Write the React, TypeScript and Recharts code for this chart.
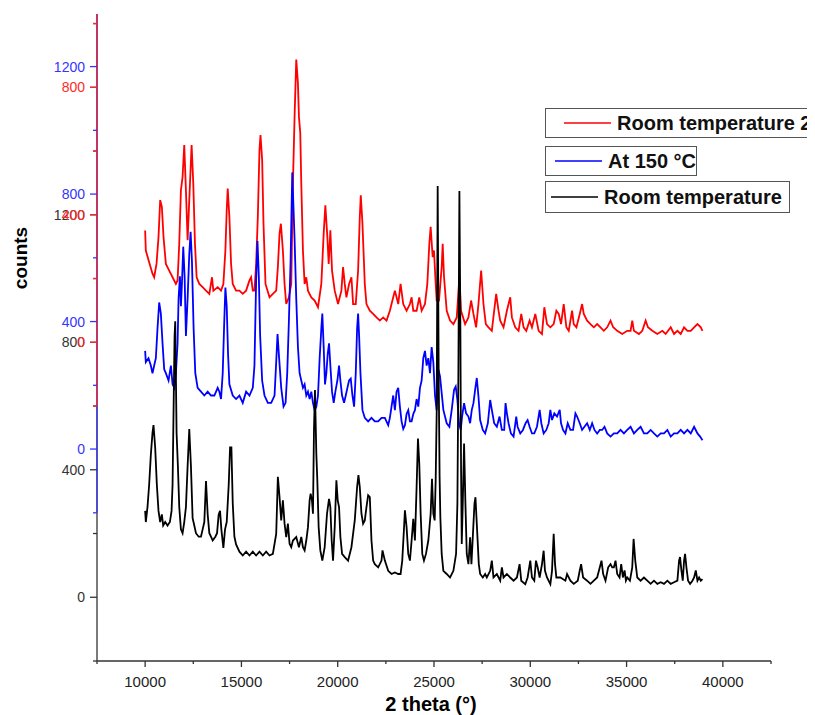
import React from 'react';
import { LineChart, Line, XAxis, YAxis, Legend, ReferenceLine, Label } from 'recharts';

const FONT = "'Liberation Sans', Arial, Helvetica, sans-serif";

// 2 theta / counts readings, "Room temperature" (black)
const blackPoints: [number, number][] = [
  [10000,271],[10035,236],[10122,283],[10208,353],[10295,446],[10382,516],[10434,540],[10521,470],[10608,353],[10694,271],[10781,236],[10868,260],[10937,225],[11042,236],[11163,225],[11285,236],[11372,271],[11424,353],[11476,586],[11528,820],[11563,866],[11632,516],[11701,411],[11771,283],[11858,213],[11944,201],[12031,236],[12118,283],[12205,411],[12292,528],[12378,411],[12465,248],[12552,225],[12639,201],[12778,190],[12899,190],[12986,213],[13073,236],[13160,365],[13247,260],[13333,201],[13420,190],[13507,178],[13646,190],[13733,201],[13819,260],[13889,271],[13958,213],[14062,155],[14149,213],[14236,236],[14340,353],[14410,470],[14479,470],[14549,295],[14635,190],[14722,166],[14896,143],[15069,131],[15243,143],[15417,131],[15590,143],[15764,131],[15937,143],[16111,131],[16285,143],[16458,131],[16632,136],[16806,199],[16892,378],[16979,314],[17066,241],[17153,304],[17240,231],[17326,189],[17413,231],[17500,168],[17587,157],[17674,178],[17847,189],[17986,157],[18108,189],[18194,157],[18281,147],[18368,178],[18455,220],[18542,304],[18594,325],[18663,304],[18715,262],[18767,524],[18819,650],[18889,451],[18941,367],[19010,220],[19097,147],[19201,115],[19323,157],[19444,262],[19549,309],[19618,283],[19687,178],[19757,115],[19844,220],[19931,367],[20000,304],[20069,283],[20139,189],[20226,136],[20365,126],[20538,115],[20712,157],[20885,241],[21007,346],[21076,383],[21146,346],[21233,262],[21319,231],[21406,241],[21493,283],[21580,320],[21667,314],[21753,178],[21840,115],[21927,104],[22101,94],[22274,115],[22326,147],[22448,115],[22622,83],[22795,73],[22969,78],[23142,73],[23264,73],[23351,115],[23437,210],[23490,273],[23576,220],[23663,136],[23750,115],[23837,178],[23924,246],[24010,178],[24097,346],[24167,498],[24236,419],[24306,262],[24392,136],[24479,115],[24583,136],[24705,178],[24826,262],[24896,372],[24965,262],[25035,241],[25087,367],[25139,577],[25191,1290],[25243,703],[25290,380],[25330,250],[25399,136],[25486,83],[25660,73],[25833,62],[26007,83],[26146,136],[26215,293],[26267,713],[26319,1275],[26372,818],[26406,398],[26441,167],[26493,293],[26562,482],[26632,293],[26701,136],[26788,104],[26875,188],[26944,104],[27014,188],[27101,293],[27153,314],[27205,251],[27257,188],[27326,104],[27396,73],[27535,62],[27656,73],[27743,62],[27917,83],[28003,115],[28090,62],[28264,73],[28438,52],[28524,94],[28611,62],[28785,73],[28958,62],[29132,52],[29306,62],[29444,104],[29531,52],[29740,41],[29861,62],[30000,115],[30087,62],[30208,52],[30295,115],[30382,94],[30486,62],[30608,104],[30694,146],[30764,83],[30868,62],[31042,41],[31128,83],[31215,199],[31285,104],[31354,62],[31562,62],[31823,52],[31910,73],[32083,52],[32257,42],[32465,52],[32569,84],[32639,104],[32743,62],[32951,52],[33125,42],[33299,52],[33472,62],[33611,94],[33698,115],[33785,73],[33906,52],[34045,94],[34167,104],[34253,94],[34340,94],[34427,115],[34514,73],[34635,62],[34722,104],[34809,62],[34896,84],[34965,52],[35035,62],[35174,52],[35295,94],[35365,183],[35451,115],[35556,62],[35729,52],[35903,62],[36076,52],[36250,42],[36424,52],[36597,42],[36771,47],[36944,42],[37118,52],[37292,42],[37465,47],[37639,52],[37726,115],[37778,126],[37847,84],[37917,52],[37986,115],[38038,136],[38108,94],[38194,52],[38299,42],[38420,52],[38507,62],[38594,84],[38681,52],[38767,62],[38854,52],[38941,57]
];

// "At 150 °C" (blue)
const bluePoints: [number, number][] = [
  [10000,308],[10035,273],[10174,285],[10295,262],[10382,238],[10469,262],[10556,285],[10642,378],[10729,460],[10816,425],[10903,332],[10990,250],[11076,238],[11215,215],[11337,262],[11424,203],[11510,192],[11597,238],[11684,332],[11736,472],[11806,542],[11858,448],[11910,518],[11979,635],[12049,542],[12118,355],[12205,472],[12292,612],[12361,682],[12431,588],[12517,378],[12604,238],[12726,192],[12899,180],[13073,168],[13247,180],[13420,168],[13594,168],[13767,192],[13854,180],[13941,157],[14028,238],[14097,378],[14167,507],[14236,448],[14306,297],[14375,203],[14549,168],[14722,157],[14896,168],[15069,145],[15243,180],[15417,168],[15590,192],[15677,262],[15764,530],[15833,653],[15903,542],[15972,355],[16076,215],[16198,168],[16371,145],[16545,145],[16719,168],[16806,273],[16875,361],[16944,297],[17066,192],[17187,133],[17292,145],[17378,238],[17465,402],[17552,588],[17639,868],[17760,658],[17847,472],[17934,320],[18021,238],[18108,215],[18194,192],[18281,203],[18368,168],[18455,180],[18542,157],[18628,180],[18715,145],[18802,122],[18889,133],[18976,168],[19062,285],[19149,378],[19201,425],[19271,320],[19340,203],[19410,238],[19479,297],[19549,332],[19618,262],[19705,180],[19792,145],[19878,180],[19983,215],[20069,262],[20139,215],[20226,168],[20330,145],[20417,168],[20503,192],[20590,215],[20677,221],[20764,168],[20851,133],[20937,238],[21007,378],[21059,425],[21111,355],[21181,238],[21285,122],[21406,98],[21580,87],[21753,98],[21927,87],[22101,87],[22274,98],[22448,98],[22622,75],[22708,98],[22795,133],[22882,168],[22969,122],[23056,180],[23142,192],[23229,133],[23316,87],[23403,63],[23490,75],[23576,110],[23663,122],[23750,87],[23837,87],[23924,110],[24010,122],[24097,157],[24184,133],[24271,192],[24358,215],[24444,285],[24531,308],[24618,262],[24705,285],[24792,238],[24878,320],[24965,273],[25052,168],[25139,122],[25226,250],[25313,228],[25486,123],[25660,81],[25799,70],[25920,123],[26042,186],[26128,196],[26215,154],[26302,81],[26389,60],[26458,102],[26562,144],[26667,112],[26788,102],[26875,81],[26962,123],[27049,144],[27135,186],[27222,223],[27309,165],[27396,91],[27535,60],[27656,49],[27795,81],[27917,154],[28003,123],[28125,81],[28264,70],[28403,102],[28524,60],[28646,60],[28715,144],[28785,112],[28872,81],[28993,49],[29132,39],[29271,102],[29340,70],[29479,49],[29618,60],[29757,81],[29861,91],[29965,70],[30087,49],[30208,49],[30347,70],[30486,123],[30573,81],[30694,49],[30833,60],[30955,81],[31042,123],[31128,91],[31250,112],[31389,102],[31528,123],[31597,81],[31701,60],[31823,49],[31944,81],[32083,60],[32222,60],[32344,112],[32431,102],[32569,81],[32691,60],[32812,70],[32951,81],[33090,60],[33212,81],[33333,60],[33472,49],[33611,60],[33733,60],[33854,70],[33993,49],[34167,39],[34340,49],[34514,49],[34687,60],[34861,49],[35035,60],[35208,70],[35382,49],[35556,60],[35729,70],[35903,49],[36076,49],[36250,60],[36424,49],[36597,39],[36771,49],[36944,49],[37118,60],[37292,39],[37465,49],[37639,49],[37812,60],[37986,49],[38160,60],[38333,49],[38507,70],[38681,49],[38819,39],[38941,28]
];

// "Room temperature 2" (red)
const redPoints: [number, number][] = [
  [10000,351],[10035,288],[10208,251],[10382,215],[10469,204],[10590,246],[10694,330],[10781,446],[10868,425],[10955,330],[11076,246],[11250,225],[11424,204],[11597,183],[11684,194],[11771,309],[11858,477],[11944,519],[12031,619],[12118,477],[12205,320],[12292,446],[12413,619],[12500,498],[12587,309],[12674,204],[12812,183],[12986,173],[13160,162],[13333,152],[13472,204],[13542,162],[13767,173],[13941,162],[14062,183],[14167,288],[14236,414],[14288,482],[14375,393],[14462,246],[14549,183],[14722,162],[14896,162],[15069,152],[15243,162],[15417,194],[15503,204],[15590,162],[15677,162],[15764,246],[15851,393],[15937,603],[15990,650],[16076,572],[16146,372],[16250,183],[16458,141],[16632,152],[16806,162],[16892,236],[16979,341],[17049,372],[17153,288],[17240,183],[17326,120],[17465,141],[17587,183],[17674,498],[17760,708],[17847,887],[17934,813],[17986,708],[18056,656],[18108,498],[18194,288],[18281,183],[18368,204],[18455,162],[18628,141],[18802,131],[18976,110],[19149,183],[19271,341],[19358,430],[19462,330],[19531,246],[19618,351],[19705,225],[19844,162],[20017,120],[20191,162],[20278,236],[20365,183],[20451,141],[20590,183],[20712,204],[20799,120],[20937,120],[21059,225],[21146,393],[21198,461],[21285,372],[21406,183],[21493,120],[21667,99],[21840,89],[22014,78],[22187,68],[22361,78],[22535,68],[22708,99],[22882,141],[22969,162],[23056,141],[23142,120],[23264,183],[23403,120],[23576,99],[23750,120],[23837,141],[23924,99],[24097,99],[24236,141],[24358,99],[24531,120],[24653,183],[24757,309],[24826,362],[24931,267],[25000,288],[25069,204],[25139,131],[25260,131],[25399,236],[25451,309],[25521,204],[25660,99],[25833,68],[26007,57],[26181,78],[26319,204],[26406,99],[26615,57],[26788,78],[26927,131],[27049,89],[27187,47],[27309,120],[27448,225],[27569,120],[27691,57],[27830,47],[28003,36],[28125,99],[28229,152],[28351,99],[28438,68],[28611,47],[28785,99],[28958,141],[29045,78],[29219,47],[29392,36],[29531,89],[29653,47],[29792,36],[29965,68],[30087,47],[30260,89],[30434,36],[30608,26],[30729,110],[30868,57],[31042,47],[31215,57],[31354,99],[31476,89],[31597,57],[31736,120],[31875,47],[31997,36],[32170,99],[32257,57],[32396,47],[32569,89],[32691,120],[32778,89],[32951,68],[33125,57],[33299,47],[33472,57],[33646,47],[33819,36],[33993,47],[34167,68],[34306,47],[34514,36],[34774,26],[35035,36],[35208,36],[35295,68],[35382,36],[35642,26],[35816,36],[35990,68],[36111,47],[36337,36],[36597,26],[36858,36],[37031,26],[37292,47],[37465,26],[37639,36],[37812,26],[37986,47],[38160,36],[38333,36],[38507,47],[38681,57],[38854,47],[38941,36]
];

const xDomain: [number, number] = [7500, 42500];
const xTicks = [7500, 10000, 12500, 15000, 17500, 20000, 22500, 25000, 27500, 30000, 32500, 35000, 37500, 40000, 42500];
const xLabelTicks = [10000, 15000, 20000, 25000, 30000, 35000, 40000];

const blackDomain: [number, number] = [-200, 1830];
const blueDomain: [number, number] = [-665, 1365];
const redDomain: [number, number] = [-1000, 1030];
const blackTicks = [-200, 0, 200, 400, 600, 800, 1000, 1200, 1400, 1600, 1800];
const blueTicks = [-200, 0, 200, 400, 600, 800, 1000, 1200];
const redTicks = [-200, 0, 200, 400, 600, 800, 1000];
const blackLabelTicks = [0, 400, 800, 1200];
const blueLabelTicks = [0, 400, 800, 1200];
const redLabelTicks = [0, 400, 800];

const names = { black: 'Room temperature', blue: 'At 150 °C', red: 'Room temperature 2' };
const colors = { black: '#000000', blue: '#0000ff', red: '#ff0000' };
const axisColors = { black: '#333333', blue: '#3535ff', red: '#ff2a2a' };

const toRows = (pts: [number, number][]) => pts.map(([x, y]) => ({ x, y }));
const blackData = toRows(blackPoints);
const blueData = toRows(bluePoints);
const redData = toRows(redPoints);

const AXIS_X = 89; // plot left edge inside the svg

const makeYTick = (color: string, labels: number[]) => (props: any) => {
  const { y, payload } = props;
  const x = AXIS_X;
  const v = payload.value;
  const major = v % 400 === 0;
  const len = major ? 7 : 4;
  return (
    <g>
      <line x1={x - len} x2={x} y1={y} y2={y} stroke={color} strokeWidth={1.3} />
      {labels.includes(v) ? (
        <text x={x - 12} y={y} dy="0.36em" textAnchor="end" fill={color} fontSize={14} fontFamily={FONT}>
          {v}
        </text>
      ) : null}
    </g>
  );
};

const XTick = (props: any) => {
  const { x, y, payload } = props;
  const v = payload.value;
  const major = v % 5000 === 0;
  return (
    <g>
      <line x1={x} x2={x} y1={y} y2={y + (major ? 6 : 3)} stroke="#333" strokeWidth={1.3} />
      {xLabelTicks.includes(v) ? (
        <text x={x} y={y + 26} textAnchor="middle" fill="#222" fontSize={15} fontFamily={FONT}>
          {v}
        </text>
      ) : null}
    </g>
  );
};

const CountsLabel = (props: any) => {
  const vb = props.viewBox || { x: 88, y: 6, width: 1, height: 647 };
  const cx = 12;
  const cy = vb.y + 244;
  return (
    <text x={cx} y={cy} transform={`rotate(-90, ${cx}, ${cy})`} textAnchor="middle" dominantBaseline="central"
      fontSize={19} fontWeight="bold" fontFamily={FONT} fill="#000">
      counts
    </text>
  );
};

const ThetaLabel = (props: any) => {
  const vb = props.viewBox || { x: 89, y: 653, width: 674, height: 54 };
  return (
    <text x={vb.x + 334} y={vb.y + 50} textAnchor="middle" fontSize={20} fontWeight="bold" fontFamily={FONT} fill="#000">
      2 theta (°)
    </text>
  );
};

const legendBoxes = [
  { key: 'red', top: 0, height: 30, width: 300, padLeft: 18 },
  { key: 'blue', top: 38, height: 30, width: 152, padLeft: 9 },
  { key: 'black', top: 73, height: 32, width: 245, padLeft: 5 },
] as const;

const renderLegend = () => (
  <div style={{ position: 'relative', width: 280, height: 110 }}>
    {legendBoxes.map((b) => (
      <div key={b.key} style={{
        position: 'absolute', left: 0, top: b.top, width: b.width, height: b.height,
        border: '1.5px solid #555', boxSizing: 'border-box', display: 'flex', alignItems: 'center',
        paddingLeft: b.padLeft, background: '#fff', whiteSpace: 'nowrap',
      }}>
        <svg width={47} height={6} style={{ marginRight: 6, display: 'block', flex: 'none' }}>
          <line x1={0} x2={47} y1={3} y2={3} stroke={(colors as any)[b.key]} strokeWidth={1.5} />
        </svg>
        <span style={{ fontFamily: FONT, fontWeight: 'bold', fontSize: 20, color: '#111', lineHeight: 1 }}>
          {(names as any)[b.key]}
        </span>
      </div>
    ))}
  </div>
);

export default function App() {
  return (
    <div style={{ position: 'relative', width: 807, height: 707, overflow: 'hidden' }}>
      <LineChart width={807} height={707} margin={{ top: 6, right: 44, bottom: 0, left: 86 }}>
        <XAxis
          type="number"
          dataKey="x"
          domain={xDomain}
          ticks={xTicks}
          interval={0}
          allowDataOverflow
          height={54}
          tickSize={0}
          tickMargin={0}
          tickLine={false}
          tick={<XTick />}
          axisLine={{ stroke: '#333', strokeWidth: 1.3 }}
        >
          <Label content={<ThetaLabel />} />
        </XAxis>
        <YAxis
          yAxisId="black"
          type="number"
          domain={blackDomain}
          ticks={blackTicks}
          interval={0}
          allowDataOverflow
          width={1}
          tickSize={0}
          tickMargin={0}
          tickLine={false}
          axisLine={false}
          tick={makeYTick(axisColors.black, blackLabelTicks)}
        >
          <Label content={<CountsLabel />} />
        </YAxis>
        <YAxis
          yAxisId="blue"
          type="number"
          domain={blueDomain}
          ticks={blueTicks}
          interval={0}
          allowDataOverflow
          width={1}
          tickSize={0}
          tickMargin={0}
          tickLine={false}
          axisLine={false}
          tick={makeYTick(axisColors.blue, blueLabelTicks)}
        />
        <YAxis
          yAxisId="red"
          type="number"
          domain={redDomain}
          ticks={redTicks}
          interval={0}
          allowDataOverflow
          width={1}
          tickSize={0}
          tickMargin={0}
          tickLine={false}
          axisLine={false}
          tick={makeYTick(axisColors.red, redLabelTicks)}
        />
        <ReferenceLine yAxisId="black" ifOverflow="visible" stroke={axisColors.black} strokeWidth={1.3}
          segment={[{ x: xDomain[0], y: blackDomain[0] }, { x: xDomain[0], y: blackDomain[1] }]} />
        <ReferenceLine yAxisId="blue" ifOverflow="visible" stroke={axisColors.blue} strokeWidth={1.3}
          segment={[{ x: xDomain[0], y: -200 }, { x: xDomain[0], y: blueDomain[1] }]} />
        <ReferenceLine yAxisId="red" ifOverflow="visible" stroke={axisColors.red} strokeWidth={1.3}
          segment={[{ x: xDomain[0], y: -200 }, { x: xDomain[0], y: redDomain[1] }]} />
        <Line yAxisId="red" data={redData} dataKey="y" name={names.red} stroke={colors.red}
          strokeWidth={1.8} dot={false} isAnimationActive={false} />
        <Line yAxisId="blue" data={blueData} dataKey="y" name={names.blue} stroke={colors.blue}
          strokeWidth={1.8} dot={false} isAnimationActive={false} />
        <Line yAxisId="black" data={blackData} dataKey="y" name={names.black} stroke={colors.black}
          strokeWidth={1.8} dot={false} isAnimationActive={false} />
        <Legend
          layout="vertical"
          align="center"
          verticalAlign="middle"
          content={renderLegend}
          wrapperStyle={{ position: 'absolute', left: 537, top: 100, width: 280, height: 110, margin: 0, padding: 0 }}
        />
      </LineChart>
    </div>
  );
}
